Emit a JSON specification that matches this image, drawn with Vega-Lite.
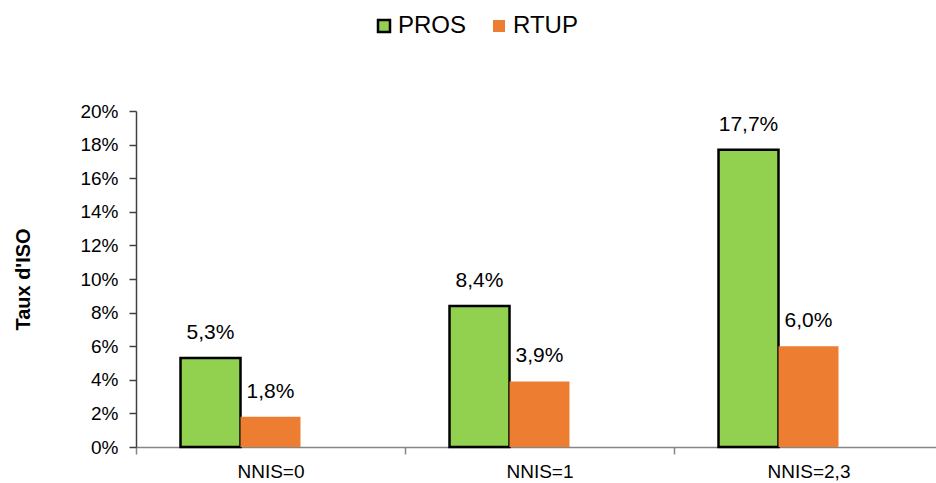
{
  "$schema": "https://vega.github.io/schema/vega-lite/v6.json",
  "width": 800,
  "height": 336,
  "autosize": {"type": "none"},
  "padding": {"left": 136, "top": 111, "right": 0, "bottom": 36},
  "background": "white",
  "config": {
    "locale": {"number": {"decimal": ",", "thousands": " ", "grouping": [3], "currency": ["", " €"]}},
    "view": {"stroke": null},
    "font": "Liberation Sans"
  },
  "data": {
    "values": [
      {"cat": "NNIS=0", "serie": "PROS", "taux": 0.053},
      {"cat": "NNIS=0", "serie": "RTUP", "taux": 0.018},
      {"cat": "NNIS=1", "serie": "PROS", "taux": 0.084},
      {"cat": "NNIS=1", "serie": "RTUP", "taux": 0.039},
      {"cat": "NNIS=2,3", "serie": "PROS", "taux": 0.177},
      {"cat": "NNIS=2,3", "serie": "RTUP", "taux": 0.060}
    ]
  },
  "encoding": {
    "x": {
      "field": "cat", "type": "nominal", "sort": null,
      "scale": {"paddingInner": 0, "paddingOuter": 0, "range": [0, 807]},
      "axis": {
        "title": null, "labelAngle": 0, "labelFontSize": 19, "labelColor": "#000000",
        "labelPadding": 8, "tickSize": 7, "tickBand": "extent",
        "domainColor": "#868686", "tickColor": "#868686", "domainWidth": 1.5, "tickWidth": 1.5
      }
    },
    "xOffset": {
      "field": "serie", "type": "nominal",
      "scale": {"domain": ["PROS", "RTUP", "_"], "paddingInner": 0, "paddingOuter": 0.742}
    },
    "y": {
      "field": "taux", "type": "quantitative",
      "scale": {"domain": [0, 0.2], "nice": false},
      "axis": {
        "values": [0, 0.02, 0.04, 0.06, 0.08, 0.1, 0.12, 0.14, 0.16, 0.18, 0.2],
        "format": ".0%", "grid": false, "title": "Taux d'ISO",
        "titleFontSize": 20, "titleFontWeight": "bold", "titleColor": "#000000", "titlePadding": 46,
        "labelFontSize": 19, "labelColor": "#000000", "labelPadding": 11, "tickSize": 7,
        "domainColor": "#404040", "tickColor": "#404040", "domainWidth": 1.5, "tickWidth": 1.5
      }
    }
  },
  "layer": [
    {
      "mark": {"type": "bar", "strokeWidth": 2.5},
      "encoding": {
        "color": {
          "field": "serie", "type": "nominal",
          "scale": {"domain": ["PROS", "RTUP"], "range": ["#92D050", "#ED7D31"]},
          "legend": {
            "title": null, "orient": "none", "legendX": 236, "legendY": -97,
            "direction": "horizontal", "symbolType": "square", "symbolSize": 144,
            "labelFontSize": 24, "labelColor": "#000000", "labelOffset": 2, "columnPadding": 20,
            "symbolOpacity": 1,
            "encode": {"symbols": {"update": {
              "stroke": {"signal": "datum.value == 'PROS' ? '#000000' : null"},
              "strokeWidth": {"value": 2.5}
            }}}
          }
        },
        "stroke": {
          "field": "serie", "type": "nominal",
          "scale": {"domain": ["PROS", "RTUP"], "range": ["#000000", "rgba(0,0,0,0)"]},
          "legend": null
        }
      }
    },
    {
      "mark": {"type": "text", "baseline": "alphabetic", "dy": -19, "fontSize": 21, "color": "#000000"},
      "encoding": {
        "text": {"field": "taux", "type": "quantitative", "format": ".1%"}
      }
    }
  ]
}
